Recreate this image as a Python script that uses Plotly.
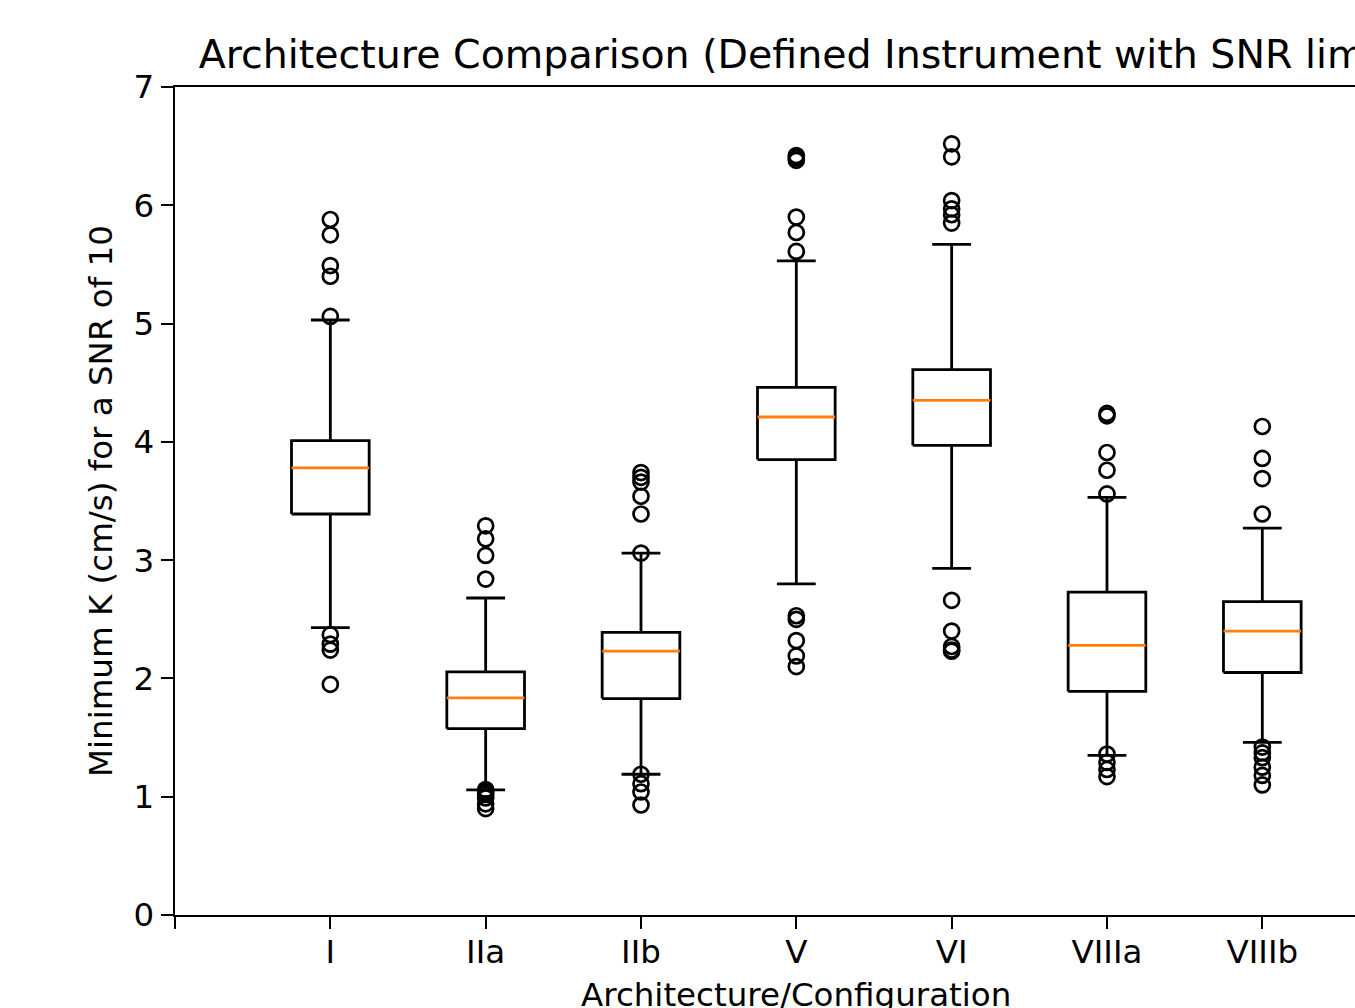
import plotly.graph_objects as go

# ---------------- data ----------------
categories = ["I", "IIa", "IIb", "V", "VI", "VIIIa", "VIIIb"]
q1 = [3.39, 1.575, 1.83, 3.85, 3.97, 1.89, 2.05]
median = [3.78, 1.835, 2.23, 4.21, 4.35, 2.28, 2.40]
q3 = [4.01, 2.055, 2.39, 4.46, 4.61, 2.73, 2.65]
whisker_lo = [2.43, 1.058, 1.19, 2.80, 2.93, 1.35, 1.46]
whisker_hi = [5.03, 2.68, 3.06, 5.53, 5.67, 3.53, 3.27]
outliers = [
    [5.88, 5.75, 5.49, 5.40, 5.06, 2.37, 2.29, 2.24, 1.95],
    [3.29, 3.18, 3.04, 2.84, 1.06, 1.04, 1.02, 0.99, 0.94, 0.90],
    [3.74, 3.70, 3.66, 3.54, 3.39, 3.06, 1.19, 1.11, 1.04, 0.93],
    [6.42, 6.40, 6.38, 5.90, 5.77, 5.61, 2.53, 2.50, 2.32, 2.19, 2.10],
    [6.52, 6.41, 6.04, 5.97, 5.92, 5.85, 2.66, 2.40, 2.27, 2.24, 2.23],
    [4.24, 4.22, 3.91, 3.76, 3.56, 1.36, 1.29, 1.23, 1.17],
    [4.13, 3.86, 3.69, 3.39, 1.42, 1.37, 1.33, 1.25, 1.18, 1.10],
]
y_ticks = [0, 1, 2, 3, 4, 5, 6, 7]

title_text = "Architecture Comparison (Defined Instrument with SNR limit)"
x_title = "Architecture/Configuration"
y_title = "Minimum K (cm/s) for a SNR of 10"

# ---------------- style ----------------
FONT = "DejaVu Sans"
FS = 32.5
BOX_W = 0.5
CAP_W = 0.25
LW = 2.8
ORANGE = "#ff7f0e"
positions = list(range(1, len(categories) + 1))

fig = go.Figure()

box_x, box_y = [], []
wh_x, wh_y = [], []
cap_x, cap_y = [], []
med_x, med_y = [], []
out_x, out_y = [], []
for i, p in enumerate(positions):
    l, r = p - BOX_W / 2, p + BOX_W / 2
    box_x += [l, r, r, l, l, None]
    box_y += [q1[i], q1[i], q3[i], q3[i], q1[i], None]
    wh_x += [p, p, None, p, p, None]
    wh_y += [q1[i], whisker_lo[i], None, q3[i], whisker_hi[i], None]
    cap_x += [p - CAP_W / 2, p + CAP_W / 2, None, p - CAP_W / 2, p + CAP_W / 2, None]
    cap_y += [whisker_lo[i], whisker_lo[i], None, whisker_hi[i], whisker_hi[i], None]
    med_x += [l, r, None]
    med_y += [median[i], median[i], None]
    out_x += [p] * len(outliers[i])
    out_y += outliers[i]

fig.add_trace(go.Scatter(x=wh_x, y=wh_y, mode="lines",
                         line=dict(color="black", width=LW), hoverinfo="skip"))
fig.add_trace(go.Scatter(x=cap_x, y=cap_y, mode="lines",
                         line=dict(color="black", width=LW), hoverinfo="skip"))
fig.add_trace(go.Scatter(x=box_x, y=box_y, mode="lines",
                         line=dict(color="black", width=LW), hoverinfo="skip"))
fig.add_trace(go.Scatter(x=med_x, y=med_y, mode="lines",
                         line=dict(color=ORANGE, width=LW), hoverinfo="skip"))
fig.add_trace(go.Scatter(x=out_x, y=out_y, mode="markers",
                         marker=dict(symbol="circle-open", size=15,
                                     color="black", line=dict(width=2.7, color="black")),
                         hoverinfo="y"))

W, H = 1355, 1008
L, T = 175, 87
B = H - 915
spacing = 155.33
x_max = (W - L) / spacing

fig.update_layout(
    width=W, height=H,
    margin=dict(l=L, r=0, t=T, b=B),
    paper_bgcolor="white", plot_bgcolor="white",
    showlegend=False,
    font=dict(family=FONT, size=FS, color="black"),
    title=dict(text=title_text, x=803 / W, xref="container", xanchor="center",
               y=1 - 54 / H, yref="container", yanchor="middle",
               font=dict(family=FONT, size=39.5, color="black")),
)
fig.update_xaxes(
    range=[0, x_max],
    tickmode="array", tickvals=[0] + positions, ticktext=[""] + categories,
    ticks="outside", ticklen=12, tickwidth=2.4, tickcolor="black",
    ticklabelstandoff=-5,
    showline=True, linewidth=2.4, linecolor="black", mirror=True,
    showgrid=False, zeroline=False,
    tickfont=dict(family=FONT, size=FS, color="black"),
)
fig.update_yaxes(
    range=[0, 7],
    tickmode="array", tickvals=y_ticks,
    ticks="outside", ticklen=12, tickwidth=2.4, tickcolor="black",
    showline=True, linewidth=2.4, linecolor="black", mirror=False,
    showgrid=False, zeroline=False,
    tickfont=dict(family=FONT, size=FS, color="black"),
)

plot_w = W - L
plot_h = H - T - B
fig.add_annotation(text=x_title, xref="paper", yref="paper",
                   x=(796 - L) / plot_w, y=-(995 - 915) / plot_h,
                   xanchor="center", yanchor="middle", showarrow=False,
                   font=dict(family=FONT, size=FS, color="black"))
fig.add_annotation(text=y_title, xref="paper", yref="paper",
                   x=(101 - L) / plot_w, y=0.5, textangle=-90,
                   xanchor="center", yanchor="middle", showarrow=False,
                   font=dict(family=FONT, size=FS, color="black"))

fig.write_html(
    "out.html",
    config={"displayModeBar": False},
    post_script="document.body.style.margin='0';document.body.style.overflow='hidden';",
)
